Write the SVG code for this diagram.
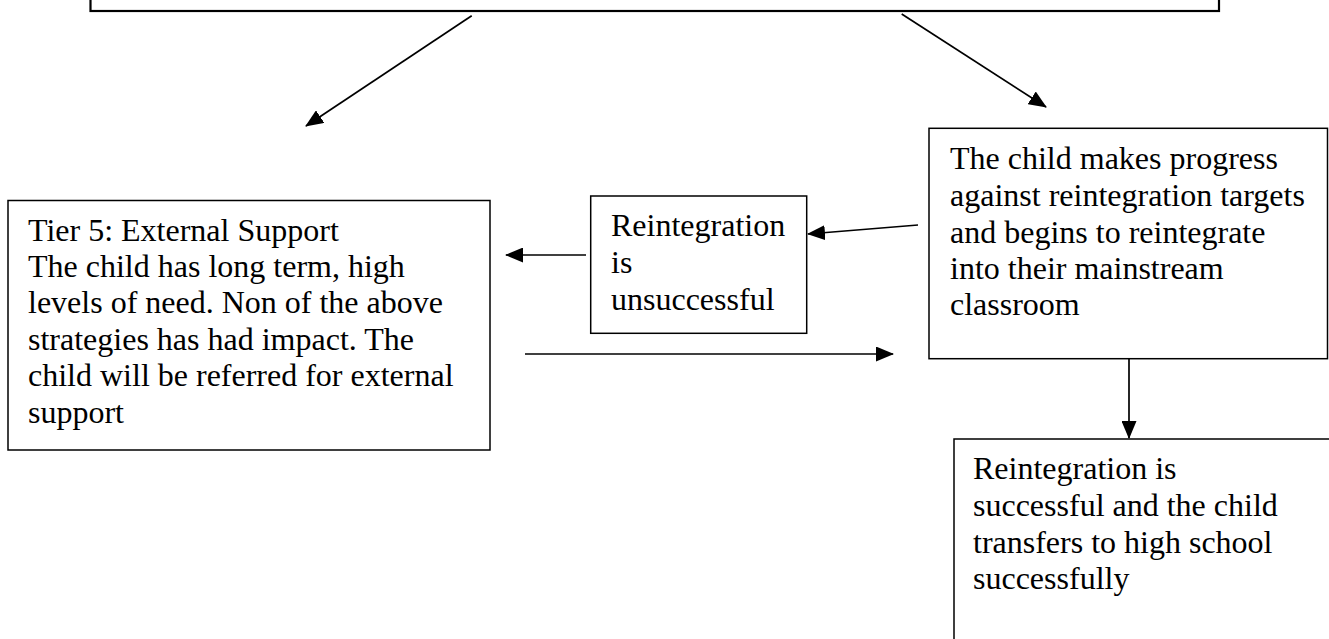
<svg xmlns="http://www.w3.org/2000/svg" width="1329" height="639" viewBox="0 0 1329 639">
<style>
.box{fill:#fff;stroke:#000;stroke-width:1.5}
.top{fill:#fff;stroke:#000;stroke-width:2.2}
.conn{stroke:#000;stroke-width:1.7;fill:none}
text{font-family:"Liberation Serif","Times New Roman",serif;font-size:32px;fill:#000}
</style>
<defs>
<marker id="ah" markerUnits="userSpaceOnUse" markerWidth="18" markerHeight="15" refX="17" refY="7.5" orient="auto">
<path d="M0,0 L18,7.5 L0,15 z" fill="#000"/>
</marker>
</defs>
<rect width="1329" height="639" fill="#fff"/>
<g id="node-top">
<rect class="top" x="90.5" y="-10" width="1128.5" height="21"/>
</g>
<g id="node-left">
<rect class="box" x="8" y="200.5" width="482" height="249.5"/>
<text x="28" y="240.5">Tier 5: External Support</text>
<text x="28" y="277">The child has long term, high</text>
<text x="28" y="313">levels of need. Non of the above</text>
<text x="28" y="349.5">strategies has had impact. The</text>
<text x="28" y="386">child will be referred for external</text>
<text x="28" y="422.5">support</text>
</g>
<g id="node-middle">
<rect class="box" x="590.7" y="196" width="216" height="137.3"/>
<text x="611" y="236">Reintegration</text>
<text x="611" y="273">is</text>
<text x="611" y="310">unsuccessful</text>
</g>
<g id="node-right">
<rect class="box" x="929" y="128.3" width="398.5" height="230.4"/>
<text x="950" y="169">The child makes progress</text>
<text x="950" y="206">against reintegration targets</text>
<text x="950" y="242.5">and begins to reintegrate</text>
<text x="950" y="279">into their mainstream</text>
<text x="950" y="315">classroom</text>
</g>
<g id="node-bottom">
<rect class="box" x="954" y="439" width="400" height="220"/>
<text x="973" y="479">Reintegration is</text>
<text x="973" y="516">successful and the child</text>
<text x="973" y="552.5">transfers to high school</text>
<text x="973" y="588.5">successfully</text>
</g>
<g id="connectors">
<line class="conn" x1="471.7" y1="15.7" x2="306" y2="126" marker-end="url(#ah)"/>
<line class="conn" x1="901.7" y1="14" x2="1046" y2="107" marker-end="url(#ah)"/>
<line class="conn" x1="918" y1="225" x2="808" y2="234" marker-end="url(#ah)"/>
<line class="conn" x1="586" y1="255" x2="506" y2="255" marker-end="url(#ah)"/>
<line class="conn" x1="525" y1="354" x2="893" y2="354" marker-end="url(#ah)"/>
<line class="conn" x1="1129" y1="359" x2="1129" y2="438" marker-end="url(#ah)"/>
</g>
</svg>
